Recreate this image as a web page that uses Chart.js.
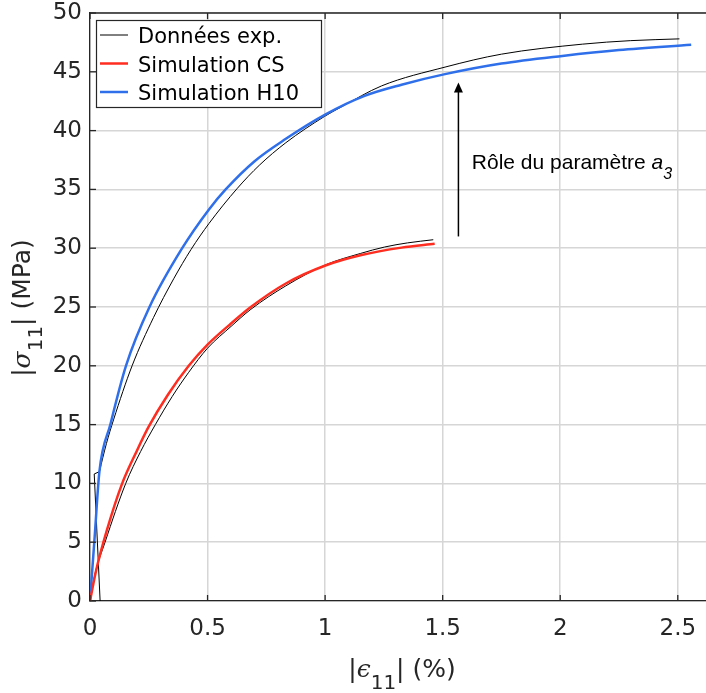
<!DOCTYPE html>
<html>
<head>
<meta charset="utf-8">
<script src="https://cdn.jsdelivr.net/npm/chart.js@4/dist/chart.umd.min.js"></script>
<style>
  html, body { margin: 0; padding: 0; background: #fff; }
  canvas { display: block; }
</style>
</head>
<body>
<canvas id="c" width="706" height="693"></canvas>
<script>
// Courbes (déformation en %, contrainte en MPa)
const expCsX = [0, 0.02, 0.064, 0.152, 0.215, 0.278, 0.35, 0.42, 0.5, 0.6, 0.684, 0.833, 1.004, 1.15, 1.253, 1.35, 1.46];
const expCsY = [0, 2.2, 5.0, 10.0, 12.7, 15.0, 17.4, 19.45, 21.5, 23.35, 24.8, 26.8, 28.6, 29.55, 30.1, 30.45, 30.72];

const expH10StartX = [0.043, 0.018, 0.04];
const expH10StartY = [0, 10.8, 11.0];
const expH10X = [0.04, 0.07, 0.1, 0.179, 0.27, 0.356, 0.43, 0.506, 0.627, 0.72, 0.833, 0.997, 1.068, 1.24, 1.51, 1.75, 2.094, 2.3, 2.507];
const expH10Y = [11.0, 13.4, 15.4, 20.0, 24.1, 27.4, 29.9, 32.1, 35.1, 37.05, 38.97, 41.2, 42.0, 43.8, 45.4, 46.5, 47.35, 47.65, 47.8];

const simCsX = [0, 0.026, 0.07, 0.135, 0.2, 0.249, 0.33, 0.42, 0.5, 0.6, 0.684, 0.833, 1.004, 1.15, 1.325, 1.466];
const simCsY = [0, 2.6, 5.9, 9.9, 12.8, 14.8, 17.5, 20.0, 21.8, 23.6, 25.0, 27.0, 28.55, 29.4, 30.05, 30.37];

const simH10X = [0, 0.02, 0.04, 0.0865, 0.153, 0.253, 0.392, 0.506, 0.577, 0.7, 0.833, 1.004, 1.168, 1.325, 1.51, 1.75, 2.009, 2.25, 2.557];
const simH10Y = [0, 5.5, 11.0, 15.0, 20.0, 25.0, 30.0, 33.3, 35.0, 37.4, 39.3, 41.4, 42.95, 43.9, 44.8, 45.7, 46.35, 46.85, 47.3];

const xTicks = [0, 0.5, 1, 1.5, 2, 2.5];
const yTicks = [0, 5, 10, 15, 20, 25, 30, 35, 40, 45, 50];

const legendLabels = ['Données exp.', 'Simulation CS', 'Simulation H10'];
const legendColors = ['#000000', '#ff2d20', '#2f6fea'];

// flèche "Rôle du paramètre a3"
const arrowX = 1.567, arrowFrom = 31.0, arrowTo = 44.1;

const pts = (xs, ys) => xs.map((x, i) => ({ x: x, y: ys[i] }));

const axisColor = '#262626';
const tickFont = { family: 'DejaVu Sans', size: 23 };

function line(ctx, x1, y1, x2, y2){
  ctx.beginPath(); ctx.moveTo(x1, y1); ctx.lineTo(x2, y2); ctx.stroke();
}

// texte avec indice (ex. |σ11|)
function richText(ctx, parts, cx, by){
  let w = 0;
  parts.forEach(p => { ctx.font = p.font; p.w = ctx.measureText(p.t).width; w += p.w; });
  let x = cx - w / 2;
  parts.forEach(p => {
    ctx.font = p.font;
    ctx.fillText(p.t, x, by + (p.dy || 0));
    x += p.w;
  });
}

// pas de marge automatique autour des axes
function noPad(s){
  s.paddingTop = 0; s.paddingBottom = 0; s.paddingLeft = 0; s.paddingRight = 0;
}

const decor = {
  id: 'decor',
  afterDraw(chart){
    const { ctx, chartArea: a, scales: { x, y } } = chart;
    ctx.save();
    ctx.strokeStyle = axisColor;
    ctx.lineWidth = 1.3;
    // cadre du haut + graduations intérieures
    line(ctx, a.left, a.top, a.right, a.top);
    xTicks.forEach(v => {
      const px = x.getPixelForValue(v);
      line(ctx, px, a.bottom, px, a.bottom - 6);
      line(ctx, px, a.top, px, a.top + 6);
    });
    yTicks.forEach(v => {
      const py = y.getPixelForValue(v);
      line(ctx, a.left, py, a.left + 6, py);
    });

    // légende
    const lx = a.left + 6, ly = a.top + 7;
    ctx.fillStyle = '#fff';
    ctx.fillRect(lx, ly, 225, 87);
    ctx.lineWidth = 1.2;
    ctx.strokeRect(lx + 0.5, ly + 0.5, 225, 87);
    ctx.font = '21px "DejaVu Sans"';
    ctx.textBaseline = 'alphabetic';
    legendLabels.forEach((lab, i) => {
      const cy = ly + 15 + i * 28.5;
      ctx.strokeStyle = legendColors[i];
      ctx.lineWidth = i === 0 ? 1 : 2.5;
      line(ctx, lx + 4, cy, lx + 32, cy);
      ctx.fillStyle = '#000';
      ctx.fillText(lab, lx + 42, cy + 8);
    });

    // flèche
    const ax = x.getPixelForValue(arrowX);
    const a0 = y.getPixelForValue(arrowFrom), a1 = y.getPixelForValue(arrowTo);
    ctx.strokeStyle = '#000';
    ctx.fillStyle = '#000';
    ctx.lineWidth = 1.5;
    line(ctx, ax, a0, ax, a1 + 8);
    ctx.beginPath();
    ctx.moveTo(ax, a1);
    ctx.lineTo(ax - 4.5, a1 + 10);
    ctx.lineTo(ax + 4.5, a1 + 10);
    ctx.closePath();
    ctx.fill();

    // annotation
    ctx.textAlign = 'left';
    const tx = x.getPixelForValue(1.624), ty = y.getPixelForValue(36.7);
    ctx.font = '21px "Liberation Sans"';
    ctx.fillText('Rôle du paramètre ', tx, ty);
    let w = ctx.measureText('Rôle du paramètre ').width;
    ctx.font = 'italic 21px "Liberation Sans"';
    ctx.fillText('a', tx + w, ty);
    w += ctx.measureText('a').width;
    ctx.font = 'italic 16px "Liberation Sans"';
    ctx.fillText('3', tx + w, ty + 10);

    // titres des axes
    ctx.fillStyle = axisColor;
    const base = '25px "DejaVu Sans"', sub = '20px "DejaVu Sans"', greek = 'italic 25px "DejaVu Serif"';
    richText(ctx, [
      { t: '|', font: base }, { t: 'ϵ', font: greek }, { t: '11', font: sub, dy: 12 },
      { t: '| (%)', font: base }
    ], 402, 677);
    ctx.save();
    ctx.translate(30, 308);
    ctx.rotate(-Math.PI / 2);
    richText(ctx, [
      { t: '|', font: base }, { t: 'σ', font: greek }, { t: '11', font: sub, dy: 12 },
      { t: '| (MPa)', font: base }
    ], 0, 0);
    ctx.restore();
    ctx.restore();
  }
};

const common = { showLine: true, pointRadius: 0, fill: false };

new Chart(document.getElementById('c'), {
  type: 'scatter',
  data: {
    datasets: [
      { ...common, label: 'Simulation CS', data: pts(simCsX, simCsY), borderColor: legendColors[1], borderWidth: 2.5, cubicInterpolationMode: 'monotone', order: 1 },
      { ...common, label: 'Simulation H10', data: pts(simH10X, simH10Y), borderColor: legendColors[2], borderWidth: 2.5, cubicInterpolationMode: 'monotone', order: 1 },
      { ...common, label: 'Données exp.', data: pts(expCsX, expCsY), borderColor: '#000', borderWidth: 1, cubicInterpolationMode: 'monotone', order: 2 },
      { ...common, label: 'Données exp.', data: pts(expH10X, expH10Y), borderColor: '#000', borderWidth: 1, cubicInterpolationMode: 'monotone', order: 2 },
      { ...common, label: 'Données exp.', data: pts(expH10StartX, expH10StartY), borderColor: '#000', borderWidth: 1, tension: 0, order: 2 }
    ]
  },
  options: {
    responsive: false,
    animation: false,
    layout: { autoPadding: false, padding: { top: 13, right: 0, bottom: 0, left: 0 } },
    plugins: { legend: { display: false }, tooltip: { enabled: false } },
    scales: {
      x: {
        type: 'linear', min: 0, max: 2.62,
        afterBuildTicks: s => { s.ticks = xTicks.map(v => ({ value: v })); },
        afterFit: s => { s.height = 92; noPad(s); },
        grid: { color: '#d6d6d6', lineWidth: 1.5, drawTicks: false },
        border: { color: axisColor, width: 1.3 },
        ticks: { padding: 14, color: axisColor, font: tickFont, maxRotation: 0, autoSkip: false, callback: v => String(v) }
      },
      y: {
        type: 'linear', min: 0, max: 50,
        afterBuildTicks: s => { s.ticks = yTicks.map(v => ({ value: v })); },
        afterFit: s => { s.width = 90; noPad(s); },
        grid: { color: '#d6d6d6', lineWidth: 1.5, drawTicks: false },
        border: { color: axisColor, width: 1.3 },
        ticks: { padding: 8, color: axisColor, font: tickFont, autoSkip: false, callback: v => String(v) }
      }
    }
  },
  plugins: [decor]
});
</script>
</body>
</html>
